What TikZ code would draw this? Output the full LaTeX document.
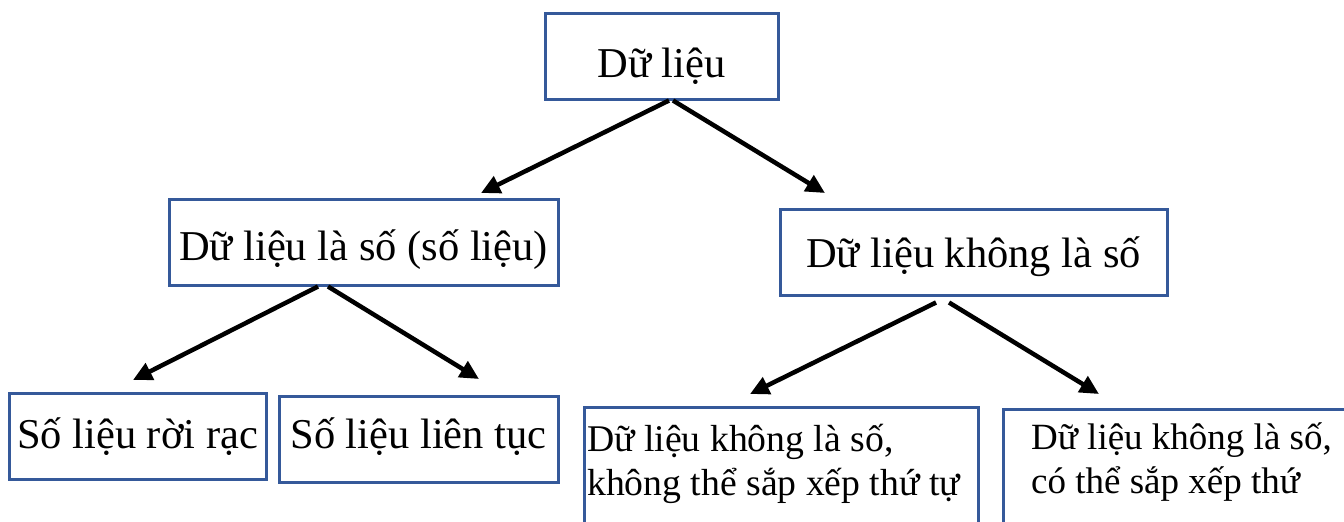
\documentclass[tikz,border=0pt]{standalone}
\usepackage{fontspec}
\setmainfont{Liberation Serif}
\usetikzlibrary{arrows.meta}
\definecolor{boxblue}{RGB}{53,89,154}
\begin{document}
\begin{tikzpicture}[x=1pt,y=-1pt,
  box/.style={draw=boxblue,line width=3pt,inner sep=0pt,minimum height=86pt,align=center,font=\fontsize{42.5}{50}\selectfont},
  openbox/.style={draw=boxblue,line width=3pt,inner sep=0pt,minimum height=150pt,anchor=north west},
  arr/.style={line width=4.5pt,-{Triangle[length=19pt,width=18pt]}},
  note/.style={inner sep=0pt,anchor=base west,align=left}]
\useasboundingbox (0,0) rectangle (1344,522);
\begin{scope}
\clip (0,0) rectangle (1344,522);
\node[box,minimum width=233pt,text height=64pt,text depth=22pt] (top) at (661.5,56) {Dữ liệu};
\node[box,minimum width=389pt,text height=61pt,text depth=25pt] (l2a) at (363.5,242) {Dữ liệu là số (số liệu)};
\node[box,minimum width=387pt,text height=58pt,text depth=28pt] (l2b) at (973.5,252) {Dữ liệu không là số};
\node[box,minimum width=257pt,text height=55pt,text depth=31pt] (l3a) at (137.5,436) {Số liệu rời rạc};
\node[box,minimum width=279pt,text height=52pt,text depth=34pt] (l3b) at (418.5,439) {Số liệu liên tục};
\node[openbox,minimum width=394pt] (l3c) at (583,406) {};
\node[openbox,minimum width=400pt] (l3d) at (1002,408) {};
\node[note,font=\fontsize{37.7}{44}\selectfont] (t3c) at (587,495) {Dữ liệu không là số,\\không thể sắp xếp thứ tự};
\end{scope}
\begin{scope}
\clip (0,0) rectangle (1344,502);
\node[note,font=\fontsize{37}{44}\selectfont] (t3d) at (1031,493) {Dữ liệu không là số,\\có thể sắp xếp thứ};
\end{scope}
\coordinate (h1) at (481,193);
\coordinate (h2) at (825,193);
\coordinate (h3) at (133,380);
\coordinate (h4) at (479,379);
\coordinate (h5) at (750,394);
\coordinate (h6) at (1099,394);
\draw[arr] ([xshift=7.5pt]top.south) -- (h1);
\draw[arr] ([xshift=11.5pt]top.south) -- (h2);
\draw[arr] ([xshift=-45.5pt]l2a.south) -- (h3);
\draw[arr] ([xshift=-35.5pt]l2a.south) -- (h4);
\draw[arr] ([xshift=-37.5pt,yshift=-6pt]l2b.south) -- (h5);
\draw[arr] ([xshift=-24.5pt,yshift=-6pt]l2b.south) -- (h6);
\end{tikzpicture}
\end{document}
